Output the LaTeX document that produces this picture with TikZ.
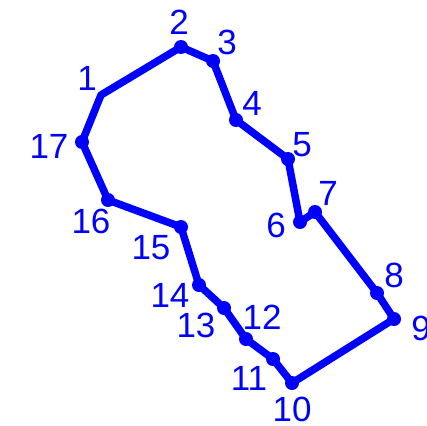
\documentclass[tikz,border=0pt]{standalone}
\usepackage{fontspec}
\setmainfont{Liberation Sans}
\begin{document}
\begin{tikzpicture}[x=1pt,y=-1pt,
  lbl/.style={text=blue,inner sep=0pt,font=\fontsize{35}{40}\selectfont},
  pathline/.style={draw=blue,line width=7.5pt,line join=round},
  dot/.style={fill=blue}]
\useasboundingbox (0,0) rectangle (427,425);
\coordinate (p1) at (101,95);
\coordinate (p2) at (181,47);
\coordinate (p3) at (213,61);
\coordinate (p4) at (236,120);
\coordinate (p5) at (288,159);
\coordinate (p6) at (300,222);
\coordinate (p7) at (315,212);
\coordinate (p8) at (377,293);
\coordinate (p9) at (394,319);
\coordinate (p10) at (292,383);
\coordinate (p11) at (273,359);
\coordinate (p12) at (246,339);
\coordinate (p13) at (224,308);
\coordinate (p14) at (199,285);
\coordinate (p15) at (181,227);
\coordinate (p16) at (108,200);
\coordinate (p17) at (82,142);
\draw[pathline] (p1) -- (p2) -- (p3) -- (p4) -- (p5) -- (p6) -- (p7) -- (p8) -- (p9) -- (p10) -- (p11) -- (p12) -- (p13) -- (p14) -- (p15) -- (p16) -- (p17) -- cycle;
\foreach \i in {2,...,17} { \fill[dot] (p\i) circle (7); }
\node[lbl] (l1) at (87,78) {1};
\node[lbl] (l2) at (179,22) {2};
\node[lbl] (l3) at (227,42) {3};
\node[lbl] (l4) at (252,103) {4};
\node[lbl] (l5) at (302,145) {5};
\node[lbl] (l6) at (276,225) {6};
\node[lbl] (l7) at (328,193) {7};
\node[lbl] (l8) at (394,275) {8};
\node[lbl] (l9) at (421,328) {9};
\node[lbl] (l10) at (292,409) {10};
\node[lbl] (l11) at (249,378) {11};
\node[lbl] (l12) at (262,317) {12};
\node[lbl] (l13) at (196,325) {13};
\node[lbl] (l14) at (170,295) {14};
\node[lbl] (l15) at (151,248) {15};
\node[lbl] (l16) at (91,221) {16};
\node[lbl] (l17) at (49,146) {17};
\end{tikzpicture}
\end{document}
